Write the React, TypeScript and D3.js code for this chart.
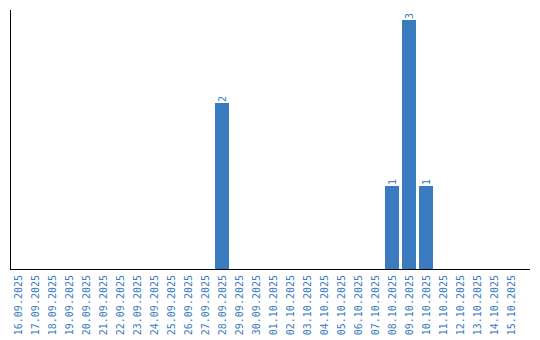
import React from "react";
import * as d3 from "d3";

const dates: string[] = [
  "16.09.2025","17.09.2025","18.09.2025","19.09.2025","20.09.2025","21.09.2025",
  "22.09.2025","23.09.2025","24.09.2025","25.09.2025","26.09.2025","27.09.2025",
  "28.09.2025","29.09.2025","30.09.2025","01.10.2025","02.10.2025","03.10.2025",
  "04.10.2025","05.10.2025","06.10.2025","07.10.2025","08.10.2025","09.10.2025",
  "10.10.2025","11.10.2025","12.10.2025","13.10.2025","14.10.2025","15.10.2025",
];
const counts: number[] = [
  0,0,0,0,0,0,0,0,0,0,0,0,2,0,0,0,0,0,0,0,0,0,1,3,1,0,0,0,0,0,
];

const W = 540, H = 340;
const color = "#3a7bc0";

export default function App() {
  const x = d3.scaleBand<string>().domain(dates).range([9.5, 519.5]).paddingInner(3 / 17).paddingOuter(1.5 / 17);
  const y = d3.scaleLinear().domain([0, 3]).range([269, 20]);
  const font = "'DejaVu Sans Mono', 'Liberation Mono', monospace";
  return (
    <svg width={W} height={H} style={{ position: "absolute", left: 0, top: 0 }}>
      {dates.map((d, i) =>
        counts[i] > 0 ? (
          <g key={d}>
            <rect x={x(d)} y={y(counts[i])} width={x.bandwidth()} height={y(0) - y(counts[i])} fill={color} />
            <text
              transform={`translate(${(x(d) as number) + x.bandwidth() / 2 + 3.5},${y(counts[i]) - 1}) rotate(-90)`}
              fontFamily={font} fontSize={10} fill={color} textAnchor="start"
            >{counts[i]}</text>
          </g>
        ) : null
      )}
      <line x1={10.5} x2={10.5} y1={10} y2={269.5} stroke="#000" strokeWidth={1} />
      <line x1={10} x2={530} y1={269.5} y2={269.5} stroke="#000" strokeWidth={1} />
      {dates.map((d) => (
        <text
          key={"l" + d}
          transform={`translate(${(x(d) as number) + x.bandwidth() / 2 + 4},${275}) rotate(-90)`}
          fontFamily={font} fontSize={10} fill={color} textAnchor="end"
        >{d}</text>
      ))}
    </svg>
  );
}
